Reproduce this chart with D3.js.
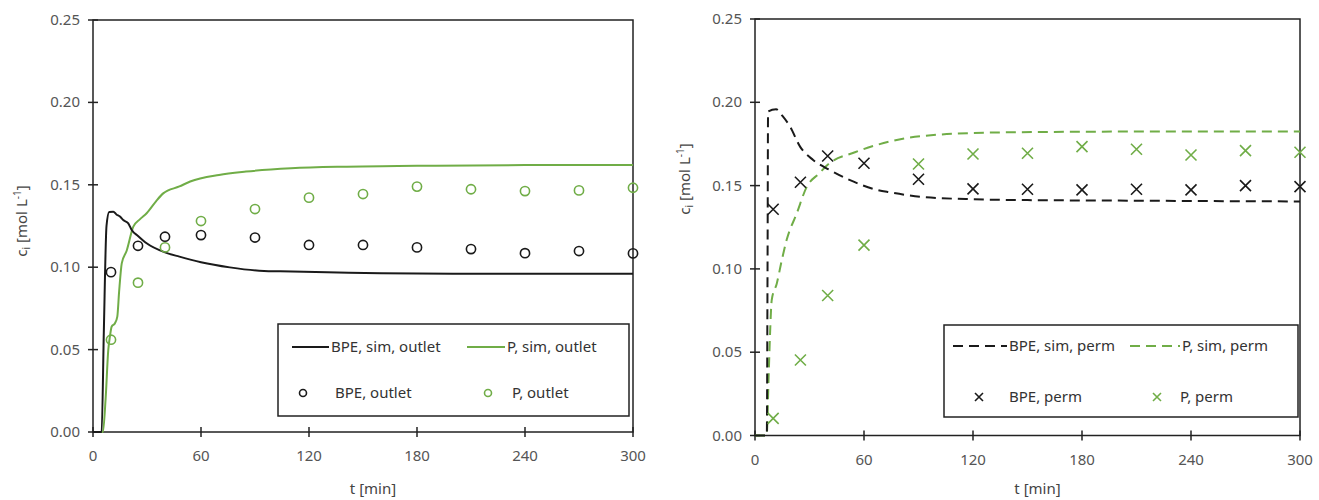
<!DOCTYPE html>
<html>
<head>
<meta charset="utf-8">
<script src="https://cdn.jsdelivr.net/npm/d3@7"></script>
<style>
  body { margin: 0; background: #fff; }
  svg { font-family: "Noto Sans", "Open Sans", sans-serif; }
</style>
</head>
<body>
<div id="chart"></div>
<script>
// measured points (min)
var tPts = [10, 25, 40, 60, 90, 120, 150, 180, 210, 240, 270, 300];
var bpeOutlet = [0.097, 0.113, 0.1185, 0.1195, 0.118, 0.1135, 0.1135, 0.112, 0.111, 0.1085, 0.1098, 0.1084];
var pOutlet = [0.056, 0.0906, 0.112, 0.128, 0.1353, 0.1422, 0.1444, 0.1489, 0.1473, 0.1462, 0.1466, 0.1482];
var bpePerm = [0.1358, 0.152, 0.1678, 0.1634, 0.1538, 0.148, 0.1478, 0.1474, 0.1478, 0.1474, 0.150, 0.1494];
var pPerm = [0.0103, 0.0453, 0.084, 0.1143, 0.163, 0.169, 0.1694, 0.1734, 0.1718, 0.1684, 0.171, 0.170];

// simulated curves
var tSimBpeOut = [0, 4.8, 6, 7.5, 9, 11.3, 13, 15, 16.8, 19.6, 21.5, 25, 29.8, 40, 48, 60, 76, 95, 104, 130, 160, 200, 250, 300];
var cSimBpeOut = [0, 0, 0.06, 0.125, 0.1335, 0.1337, 0.132, 0.1307, 0.1286, 0.1266, 0.1226, 0.119, 0.1145, 0.109, 0.1064, 0.103, 0.0999, 0.0977, 0.0975, 0.097, 0.0963, 0.096, 0.096, 0.096];
var tSimPOut = [0, 5.5, 7, 8.5, 9.4, 10.4, 12.2, 13.5, 14.5, 16, 18.7, 22.4, 26, 29.8, 35, 39, 48, 54, 70, 85, 110, 141, 180, 240, 300];
var cSimPOut = [0, 0, 0.02, 0.05, 0.058, 0.064, 0.066, 0.070, 0.085, 0.1025, 0.110, 0.1246, 0.129, 0.1327, 0.140, 0.1448, 0.149, 0.152, 0.156, 0.158, 0.160, 0.161, 0.1615, 0.162, 0.162];
var tSimBpePerm = [0, 6.5, 6.9, 7.2, 11.6, 15, 19.3, 24.8, 32, 41, 52, 67, 74, 91, 120, 150, 200, 250, 300];
var cSimBpePerm = [0, 0, 0.10, 0.1944, 0.1958, 0.192, 0.1854, 0.1734, 0.1654, 0.1594, 0.1534, 0.1475, 0.146, 0.1433, 0.1418, 0.1413, 0.141, 0.1407, 0.1405];
var tSimPPerm = [0, 6.4, 7.5, 8.3, 9.2, 12, 14.7, 17.4, 23, 28.5, 35, 41, 55, 74, 83.5, 100, 129, 160, 200, 300];
var cSimPPerm = [0, 0, 0.035, 0.0615, 0.0813, 0.0913, 0.105, 0.1173, 0.1334, 0.1493, 0.157, 0.1634, 0.170, 0.1764, 0.1785, 0.1805, 0.1818, 0.1822, 0.1824, 0.1824];

var xTicks = [0, 60, 120, 180, 240, 300];
var yTicks = [0, 0.05, 0.10, 0.15, 0.20, 0.25];

var black = "#1a1a1a";
var green = "#70ad47";

var svg = d3.select("#chart")
            .append("svg")
            .attr("width", 1319)
            .attr("height", 500);

function zip(t, c) {
    return t.map(function(d, i) { return { t: d, c: c[i] }; });
}

function drawCross(g, x, y, s, color) {
    g.append("path")
     .attr("d", "M" + (x - s) + "," + (y - s) + "L" + (x + s) + "," + (y + s) +
                "M" + (x - s) + "," + (y + s) + "L" + (x + s) + "," + (y - s))
     .attr("stroke", color)
     .attr("stroke-width", 1.6)
     .attr("fill", "none");
}

function drawPanel(cfg) {
    var x = d3.scaleLinear().domain([0, 300]).range([cfg.left, cfg.right]);
    var y = d3.scaleLinear().domain([0, 0.25]).range([cfg.bottom, cfg.top]);
    var g = svg.append("g");

    // frame
    g.append("rect")
     .attr("x", cfg.left).attr("y", cfg.top)
     .attr("width", cfg.right - cfg.left).attr("height", cfg.bottom - cfg.top)
     .attr("fill", "none").attr("stroke", "#222").attr("stroke-width", 1.5);

    // y ticks
    yTicks.forEach(function(v) {
        g.append("line")
         .attr("x1", cfg.left - 5).attr("x2", cfg.left + 5)
         .attr("y1", y(v)).attr("y2", y(v))
         .attr("stroke", "#222").attr("stroke-width", 1.5);
        g.append("text")
         .attr("x", cfg.left - 13).attr("y", y(v) + 5)
         .attr("text-anchor", "end")
         .attr("font-size", 15).attr("fill", "#555")
         .text(d3.format(".2f")(v));
    });
    // x ticks
    xTicks.forEach(function(v) {
        g.append("line")
         .attr("x1", x(v)).attr("x2", x(v))
         .attr("y1", cfg.bottom - 5).attr("y2", cfg.bottom + 5)
         .attr("stroke", "#222").attr("stroke-width", 1.5);
        g.append("text")
         .attr("x", x(v)).attr("y", cfg.bottom + 29)
         .attr("text-anchor", "middle")
         .attr("font-size", 15).attr("fill", "#555")
         .text(v);
    });

    // axis titles
    g.append("text")
     .attr("x", (cfg.left + cfg.right) / 2 + 10).attr("y", 494)
     .attr("text-anchor", "middle")
     .attr("font-size", 15).attr("fill", "#444")
     .text("t [min]");

    var yt = g.append("text")
              .attr("transform", "translate(" + cfg.yTitleX + "," + cfg.yTitleY + ") rotate(-90)")
              .attr("text-anchor", "middle")
              .attr("font-size", 15).attr("fill", "#444");
    yt.append("tspan").text("c");
    yt.append("tspan").attr("font-size", 10).attr("dy", 3).text("i");
    yt.append("tspan").attr("dy", -3).text(" [mol L");
    yt.append("tspan").attr("font-size", 10).attr("dy", -6).text("-1");
    yt.append("tspan").attr("dy", 6).text("]");

    var line = d3.line()
                 .x(function(d) { return x(d.t); })
                 .y(function(d) { return y(d.c); })
                 .curve(d3.curveMonotoneX);

    // simulated lines
    g.append("path")
     .attr("d", line(zip(cfg.simP.t, cfg.simP.c)))
     .attr("fill", "none").attr("stroke", green).attr("stroke-width", 2)
     .attr("stroke-dasharray", cfg.dash);
    g.append("path")
     .attr("d", line(zip(cfg.simB.t, cfg.simB.c)))
     .attr("fill", "none").attr("stroke", black).attr("stroke-width", 2)
     .attr("stroke-dasharray", cfg.dash);

    // measured
    var pts = zip(tPts, cfg.measB);
    var ptsP = zip(tPts, cfg.measP);
    if (cfg.marker == "circle") {
        g.selectAll("circle.b").data(pts).enter().append("circle")
         .attr("cx", function(d) { return x(d.t); })
         .attr("cy", function(d) { return y(d.c); })
         .attr("r", 4.6).attr("fill", "none").attr("stroke", black).attr("stroke-width", 1.6);
        g.selectAll("circle.p").data(ptsP).enter().append("circle")
         .attr("cx", function(d) { return x(d.t); })
         .attr("cy", function(d) { return y(d.c); })
         .attr("r", 4.6).attr("fill", "none").attr("stroke", green).attr("stroke-width", 1.6);
    } else {
        pts.forEach(function(d) { drawCross(g, x(d.t), y(d.c), 5.5, black); });
        ptsP.forEach(function(d) { drawCross(g, x(d.t), y(d.c), 5.5, green); });
    }

    // legend
    var L = cfg.legend;
    g.append("rect")
     .attr("x", L.x0).attr("y", L.y0)
     .attr("width", L.x1 - L.x0).attr("height", L.y1 - L.y0)
     .attr("fill", "#fff").attr("stroke", "#222").attr("stroke-width", 1.5);

    [[L.c1, black, cfg.labels[0]], [L.c2, green, cfg.labels[1]]].forEach(function(e) {
        g.append("line")
         .attr("x1", e[0].l0).attr("x2", e[0].l1)
         .attr("y1", L.r1).attr("y2", L.r1)
         .attr("stroke", e[1]).attr("stroke-width", 2)
         .attr("stroke-dasharray", cfg.dash);
        g.append("text")
         .attr("x", e[0].l1 + 2).attr("y", L.r1 + 5)
         .attr("font-size", 15).attr("fill", "#333")
         .text(e[2]);
    });
    [[L.c1, black, cfg.labels[2]], [L.c2, green, cfg.labels[3]]].forEach(function(e) {
        if (cfg.marker == "circle") {
            g.append("circle")
             .attr("cx", e[0].m).attr("cy", L.r2).attr("r", 3.5)
             .attr("fill", "none").attr("stroke", e[1]).attr("stroke-width", 1.6);
        } else {
            drawCross(g, e[0].m, L.r2, 4, e[1]);
        }
        g.append("text")
         .attr("x", e[0].tx).attr("y", L.r2 + 5)
         .attr("font-size", 15).attr("fill", "#333")
         .text(e[2]);
    });
}

drawPanel({
    left: 93, right: 633, top: 20, bottom: 432,
    yTitleX: 27, yTitleY: 221,
    dash: null,
    marker: "circle",
    simB: { t: tSimBpeOut, c: cSimBpeOut },
    simP: { t: tSimPOut, c: cSimPOut },
    measB: bpeOutlet, measP: pOutlet,
    labels: ["BPE, sim, outlet", "P, sim, outlet", "BPE, outlet", "P, outlet"],
    legend: { x0: 278, x1: 629, y0: 324, y1: 416, r1: 347, r2: 393,
              c1: { l0: 292, l1: 329, m: 303, tx: 335 },
              c2: { l0: 467, l1: 505, m: 488, tx: 512 } }
});

drawPanel({
    left: 755, right: 1300, top: 19, bottom: 435.5,
    yTitleX: 690, yTitleY: 179,
    dash: "10,6",
    marker: "cross",
    simB: { t: tSimBpePerm, c: cSimBpePerm },
    simP: { t: tSimPPerm, c: cSimPPerm },
    measB: bpePerm, measP: pPerm,
    labels: ["BPE, sim, perm", "P, sim, perm", "BPE, perm", "P, perm"],
    legend: { x0: 944, x1: 1298, y0: 325, y1: 417, r1: 346, r2: 397,
              c1: { l0: 953, l1: 1007, m: 979, tx: 1009 },
              c2: { l0: 1130, l1: 1180, m: 1157, tx: 1180 } }
});
</script>
</body>
</html>
